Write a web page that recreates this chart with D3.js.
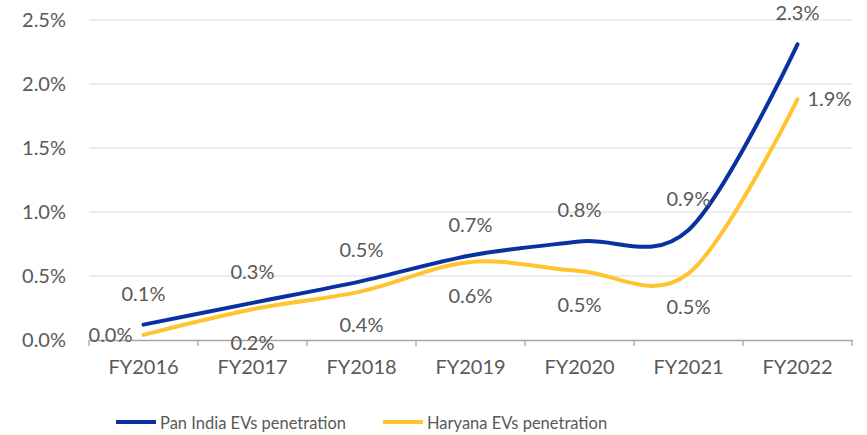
<!DOCTYPE html>
<html>
<head>
<meta charset="utf-8">
<style>
  body { margin: 0; background: #fff; }
  svg text { font-family: Lato, "Open Sans", sans-serif; fill: #595959; }
</style>
</head>
<body>
<div id="chart"></div>
<script src="https://cdn.jsdelivr.net/npm/d3@7"></script>
<script>
// data (values in %)
const years = ['FY2016', 'FY2017', 'FY2018', 'FY2019', 'FY2020', 'FY2021', 'FY2022'];
const panIndia = [0.12, 0.29, 0.46, 0.66, 0.77, 0.86, 2.31];
const haryana = [0.04, 0.24, 0.38, 0.61, 0.54, 0.52, 1.88];
const yTicks = [0, 0.5, 1.0, 1.5, 2.0, 2.5];
const yTickLabels = ['0.0%', '0.5%', '1.0%', '1.5%', '2.0%', '2.5%'];
const seriesNames = ['Pan India EVs penetration', 'Haryana EVs penetration'];

const width = 867, height = 435;
const blue = '#0a31a1', gold = '#ffc42e';
const fmt = v => v.toFixed(1) + '%';

const svg = d3.select('#chart').append('svg')
  .attr('width', width)
  .attr('height', height);

const x = d3.scaleBand().domain(years).range([89, 852]);
const y = d3.scaleLinear().domain([0, 2.5]).range([340, 20]);
const cx = d => x(d) + x.bandwidth() / 2;

// gridlines
svg.append('g')
  .selectAll('line')
  .data(yTicks.filter(d => d > 0))
  .enter().append('line')
    .attr('x1', 89).attr('x2', 852)
    .attr('y1', d => y(d)).attr('y2', d => y(d))
    .attr('stroke', '#d9d9d9')
    .attr('stroke-width', 1);

// y axis labels
const yAxis = svg.append('g')
  .attr('transform', 'translate(66,0)')
  .call(d3.axisLeft(y).tickValues(yTicks).tickFormat((d, i) => yTickLabels[i]).tickSize(0).tickPadding(0));
yAxis.select('.domain').remove();
yAxis.selectAll('text')
  .style('font-size', '20px')
  .attr('fill', '#595959');

// x axis
const xAxis = svg.append('g')
  .attr('transform', 'translate(0,340)')
  .call(d3.axisBottom(x).tickSize(0).tickPadding(20));
xAxis.select('.domain').attr('stroke', '#a6a6a6').attr('stroke-width', 1.3);
xAxis.selectAll('text')
  .style('font-size', '20px')
  .attr('fill', '#595959');
// category boundary ticks
xAxis.append('g')
  .selectAll('line')
  .data(years.concat(['end']))
  .enter().append('line')
    .attr('x1', (d, i) => i < years.length ? x(d) : x.range()[1])
    .attr('x2', (d, i) => i < years.length ? x(d) : x.range()[1])
    .attr('y1', 0).attr('y2', 6)
    .attr('stroke', '#a6a6a6')
    .attr('stroke-width', 1.3);

// lines
const line = d3.line()
  .x((d, i) => cx(years[i]))
  .y(d => y(d))
  .curve(d3.curveCardinal.tension(0));

[[haryana, gold], [panIndia, blue]].forEach(([vals, col]) => {
  svg.append('path')
    .datum(vals)
    .attr('d', line)
    .attr('fill', 'none')
    .attr('stroke', col)
    .attr('stroke-width', 4)
    .attr('stroke-linecap', 'round');
});

// data labels - pan india above the points
svg.append('g')
  .selectAll('text')
  .data(panIndia)
  .enter().append('text')
    .attr('x', (d, i) => cx(years[i]))
    .attr('y', d => y(d) - 24)
    .attr('text-anchor', 'middle')
    .style('font-size', '20px')
    .text(fmt);

// haryana below, first one left, last one right
svg.append('g')
  .selectAll('text')
  .data(haryana)
  .enter().append('text')
    .attr('x', (d, i) => {
      if (i === 0) return cx(years[i]) - 11;
      if (i === haryana.length - 1) return cx(years[i]) + 10;
      return cx(years[i]);
    })
    .attr('y', (d, i) => (i === 0 || i === haryana.length - 1) ? y(d) + 7 : y(d) + 41)
    .attr('text-anchor', (d, i) => i === 0 ? 'end' : (i === haryana.length - 1 ? 'start' : 'middle'))
    .style('font-size', '20px')
    .text(fmt);

// legend
const legend = svg.append('g').attr('transform', 'translate(0,422)');
const legendX = [116, 383];
[blue, gold].forEach((col, i) => {
  legend.append('line')
    .attr('x1', legendX[i]).attr('x2', legendX[i] + 40)
    .attr('y1', 0).attr('y2', 0)
    .attr('stroke', col)
    .attr('stroke-width', 4);
  legend.append('text')
    .attr('x', legendX[i] + 44)
    .attr('y', 7)
    .style('font-size', '16.5px')
    .text(seriesNames[i]);
});
</script>
</body>
</html>
